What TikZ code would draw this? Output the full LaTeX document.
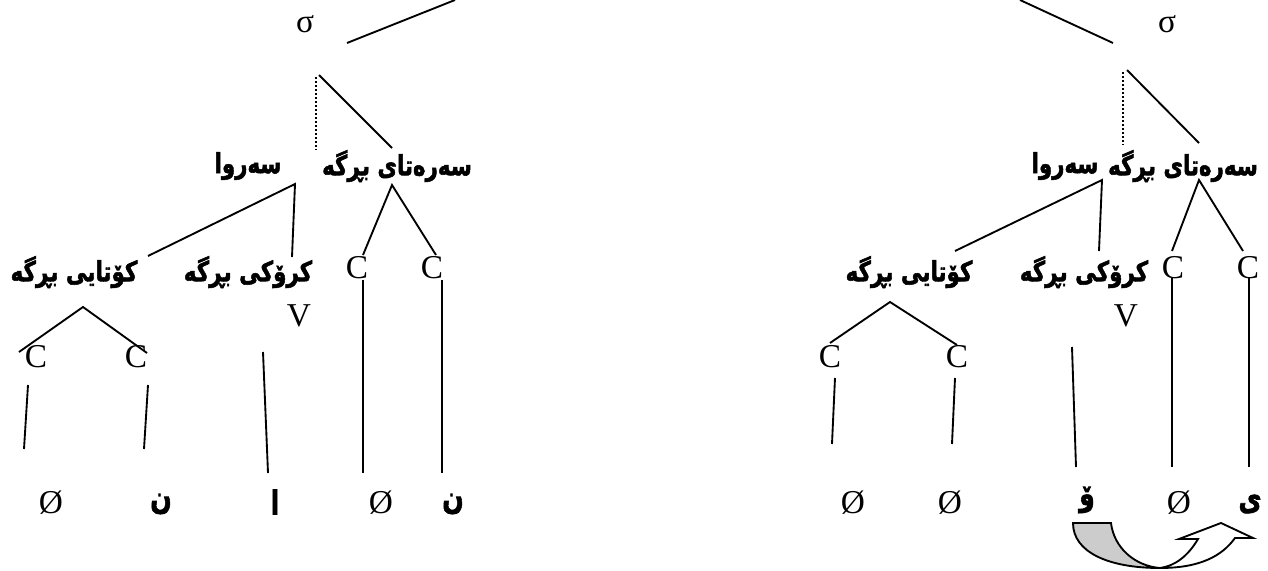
\documentclass[tikz,border=0pt]{standalone}
\usepackage{fontspec}
\setmainfont{Liberation Serif}
\newfontfamily\kurd[Script=Arabic,FakeBold=2]{DejaVu Sans}
\TeXXeTstate=1
\newcommand{\kt}[1]{\scalebox{1}[1.3]{\beginR #1\endR}}
\begin{document}
\begin{tikzpicture}[x=0.75pt,y=-0.75pt,
  lat/.style={font=\fontsize{25}{25}\selectfont, inner sep=0pt},
  ku/.style={font=\kurd\bfseries\fontsize{16}{16}\selectfont, inner sep=0pt},
  kb/.style={font=\kurd\bfseries\fontsize{19}{19}\selectfont, inner sep=0pt},
  edge/.style={line width=1.4pt},
  dots/.style={line width=2pt, dash pattern=on 1.5pt off 1.5pt},
  arr/.style={line width=1.4pt, line join=miter}]
\useasboundingbox (0,0) rectangle (1268,571);
\clip (0,0) rectangle (1268,571);

% ---------------- left tree ----------------
\node[lat] (sigL) at (305,24) {σ};
\node[ku] (onsL) at (397,166) {\kt{سەرەتای بڕگە}};
\node[ku] (rhyL) at (248,166) {\kt{سەروا}};
\node[ku] (codaL) at (74,272) {\kt{کۆتایی بڕگە}};
\node[ku] (nucL) at (248,272) {\kt{کرۆکی بڕگە}};
\node[lat] (oc1L) at (357,268) {C};
\node[lat] (oc2L) at (432,268) {C};
\node[lat] (VL) at (299,316) {V};
\node[lat] (cc1L) at (36,357) {C};
\node[lat] (cc2L) at (136,357) {C};
\node[lat] (b1L) at (51,503) {Ø};
\node[kb] (b2L) at (161,504) {\kt{ن}};
\node[kb] (b3L) at (275,502) {\kt{ا}};
\node[lat] (b4L) at (381,503) {Ø};
\node[kb] (b5L) at (453,504) {\kt{ن}};

\coordinate (tL0) at (455,0);  \coordinate (tL1) at (347,43);
\coordinate (dL0) at (316,77); \coordinate (dL1) at (316,150);
\coordinate (sL0) at (319,75); \coordinate (sL1) at (392,148);
\coordinate (rL) at (295,184); \coordinate (rL1) at (148,256); \coordinate (rL2) at (292,257);
\coordinate (oL) at (392,185); \coordinate (oL1) at (363,255); \coordinate (oL2) at (436,255);
\coordinate (ocL1a) at (363,280); \coordinate (ocL1b) at (363,473);
\coordinate (ocL2a) at (442,280); \coordinate (ocL2b) at (442,473);
\coordinate (kL) at (83,307); \coordinate (kL1) at (19,352); \coordinate (kL2) at (147,353);
\coordinate (ccL1a) at (28,385); \coordinate (ccL1b) at (24,449);
\coordinate (ccL2a) at (148,385); \coordinate (ccL2b) at (144,449);
\coordinate (vL0) at (263,352); \coordinate (vL1) at (268,473);

\draw[edge] (tL1) -- (tL0);
\draw[dots] (dL0) -- (dL1);
\draw[edge] (sL0) -- (sL1);
\draw[edge] (rL1) -- (rL) -- (rL2);
\draw[edge] (oL1) -- (oL) -- (oL2);
\draw[edge] (ocL1a) -- (ocL1b);
\draw[edge] (ocL2a) -- (ocL2b);
\draw[edge] (kL1) -- (kL) -- (kL2);
\draw[edge] (ccL1a) -- (ccL1b);
\draw[edge] (ccL2a) -- (ccL2b);
\draw[edge] (vL0) -- (vL1);

% ---------------- right tree ----------------
\node[lat] (sigR) at (1167,24) {σ};
\node[ku] (onsR) at (1183,166) {\kt{سەرەتای بڕگە}};
\node[ku] (rhyR) at (1065,166) {\kt{سەروا}};
\node[ku] (codaR) at (909,272) {\kt{کۆتایی بڕگە}};
\node[ku] (nucR) at (1084,272) {\kt{کرۆکی بڕگە}};
\node[lat] (oc1R) at (1173,268) {C};
\node[lat] (oc2R) at (1248,268) {C};
\node[lat] (VR) at (1126,316) {V};
\node[lat] (cc1R) at (830,357) {C};
\node[lat] (cc2R) at (957,357) {C};
\node[lat] (b1R) at (853,503) {Ø};
\node[lat] (b2R) at (950,503) {Ø};
\node[kb] (b3R) at (1087,500) {\kt{ۆ}};
\node[lat] (b4R) at (1179,503) {Ø};
\node[kb] (b5R) at (1250,504) {\kt{ی}};

\coordinate (tR0) at (1020,0);  \coordinate (tR1) at (1113,43);
\coordinate (dR0) at (1123,72); \coordinate (dR1) at (1123,145);
\coordinate (sR0) at (1127,70); \coordinate (sR1) at (1199,143);
\coordinate (rR) at (1102,180); \coordinate (rR1) at (955,251); \coordinate (rR2) at (1099,251);
\coordinate (oR) at (1199,180); \coordinate (oR1) at (1172,251); \coordinate (oR2) at (1243,251);
\coordinate (ocR1a) at (1172,277); \coordinate (ocR1b) at (1172,467);
\coordinate (ocR2a) at (1249,277); \coordinate (ocR2b) at (1249,467);
\coordinate (kR) at (890,302); \coordinate (kR1) at (830,343); \coordinate (kR2) at (957,345);
\coordinate (ccR1a) at (835,378); \coordinate (ccR1b) at (832,444);
\coordinate (ccR2a) at (955,378); \coordinate (ccR2b) at (952,444);
\coordinate (vR0) at (1072,347); \coordinate (vR1) at (1076,467);

\draw[edge] (tR0) -- (tR1);
\draw[dots] (dR0) -- (dR1);
\draw[edge] (sR0) -- (sR1);
\draw[edge] (rR1) -- (rR) -- (rR2);
\draw[edge] (oR1) -- (oR) -- (oR2);
\draw[edge] (ocR1a) -- (ocR1b);
\draw[edge] (ocR2a) -- (ocR2b);
\draw[edge] (kR1) -- (kR) -- (kR2);
\draw[edge] (ccR1a) -- (ccR1b);
\draw[edge] (ccR2a) -- (ccR2b);
\draw[edge] (vR0) -- (vR1);

% ---------------- curved arrow ----------------
\coordinate (aM) at (1160,568);
\draw[arr, fill=white] (aM) .. controls (1200,568) and (1222,556) .. (1235,538)
  -- (1253,538) -- (1221,523) -- (1179,539) -- (1198,539)
  .. controls (1188,556) and (1175,566) .. (aM);
\draw[arr, fill=gray!40] (1073,523) -- (1111,523)
  .. controls (1114,548) and (1135,566) .. (aM)
  .. controls (1108,568) and (1073,552) .. (1073,523) -- cycle;
\end{tikzpicture}
\end{document}
